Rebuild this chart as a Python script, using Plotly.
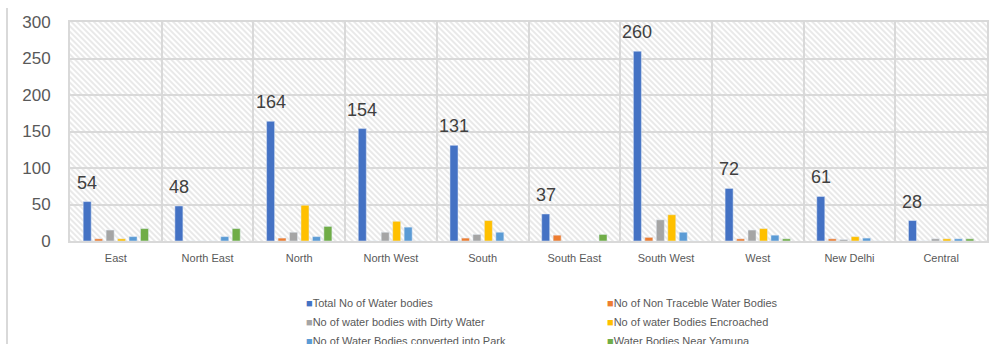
import base64
import plotly.graph_objects as go

categories = ["East", "North East", "North", "North West", "South", "South East",
              "South West", "West", "New Delhi", "Central"]

series_names = [
    "Total No of Water bodies",
    "No of Non Traceble Water Bodies",
    "No of water bodies with Dirty Water",
    "No of water Bodies Encroached",
    "No of Water Bodies converted into Park",
    "Water Bodies Near Yamuna",
]

total = [54, 48, 164, 154, 131, 37, 260, 72, 61, 28]
non_traceable = [3, 0, 4, 0, 4, 8, 5, 3, 3, 0]
dirty = [15, 0, 12, 12, 9, 0, 29, 15, 2, 3]
encroached = [3, 0, 49, 27, 28, 0, 36, 17, 6, 3]
park = [6, 6, 6, 19, 12, 0, 12, 8, 4, 3]
yamuna = [17, 17, 20, 0, 0, 9, 0, 3, 0, 3]

series_values = [total, non_traceable, dirty, encroached, park, yamuna]
colors = ["#4472C4", "#ED7D31", "#A5A5A5", "#FFC000", "#5B9BD5", "#70AD47"]
legend_ids = ["legend", "legend2", "legend", "legend2", "legend", "legend2"]

y_ticks = [0, 50, 100, 150, 200, 250, 300]

W, H = 1002, 344
ML, MR, MT, MB = 70, 15, 22, 103
PW, PH = W - ML - MR, H - MT - MB

fig = go.Figure()

for name, vals, col in zip(series_names, series_values, colors):
    fig.add_trace(go.Bar(x=categories, y=vals, name=name, marker_color=col,
                         showlegend=False, hoverinfo="x+y+name"))

# legend entries: coloured square glyph placed directly before the text
for name, col, lg in zip(series_names, colors, legend_ids):
    fig.add_trace(go.Scatter(x=[None], y=[None], mode="markers",
                             name=f'<span style="color:{col}">■</span>{name}',
                             marker=dict(symbol="square", size=1, color="rgba(0,0,0,0)"),
                             legend=lg, showlegend=True))

# data labels for total series, above the first bar of each group
bargap = 0.25
n = len(series_names)
offset = -(1 - bargap) / 2 + (1 - bargap) / n / 2
for i, v in enumerate(total):
    fig.add_annotation(x=i + offset, y=v, text=str(v), showarrow=False,
                       yanchor="bottom", yshift=7,
                       font=dict(size=18, color="#404040", family="Liberation Sans, Arial"))

# hatched plot background
svg = f'''<svg xmlns="http://www.w3.org/2000/svg" width="{PW}" height="{PH}">
<defs><pattern id="p" width="4" height="4" patternUnits="userSpaceOnUse" patternTransform="rotate(-45)">
<line x1="1" y1="0" x2="1" y2="4" stroke="#dadada" stroke-width="1.2"/></pattern></defs>
<rect width="{PW}" height="{PH}" fill="url(#p)"/></svg>'''
src = "data:image/svg+xml;base64," + base64.b64encode(svg.encode()).decode()
fig.add_layout_image(source=src, xref="paper", yref="paper", x=0, y=1,
                     sizex=1, sizey=1, xanchor="left", yanchor="top",
                     sizing="stretch", layer="below")

# outer chart border line on the left
fig.add_shape(type="line", xref="paper", yref="paper",
              x0=(7 - ML) / PW, x1=(7 - ML) / PW,
              y0=(MB - H) / PH, y1=(H - MB - 8) / PH,
              line=dict(color="#D9D9D9", width=2))

legend_font = dict(size=11, color="#595959", family="Liberation Sans, DejaVu Sans")
fig.update_layout(
    width=W, height=H,
    margin=dict(l=ML, r=MR, t=MT, b=MB, autoexpand=False),
    paper_bgcolor="white", plot_bgcolor="rgba(0,0,0,0)",
    barmode="group", bargap=bargap, bargroupgap=0.3,
    font=dict(family="Liberation Sans, Arial", color="#595959"),
    legend=dict(xref="container", yref="container", x=266 / W, y=1 - 288 / H,
                xanchor="left", yanchor="top", orientation="v",
                font=legend_font, bgcolor="rgba(0,0,0,0)"),
    legend2=dict(xref="container", yref="container", x=567 / W, y=1 - 288 / H,
                 xanchor="left", yanchor="top", orientation="v",
                 font=legend_font, bgcolor="rgba(0,0,0,0)"),
    xaxis=dict(type="category", tickson="boundaries", showgrid=True,
               gridcolor="#D9D9D9", gridwidth=2, showline=True, linecolor="#D9D9D9",
               linewidth=2, mirror=True, ticks="", ticklabelstandoff=6,
               tickfont=dict(size=11, color="#595959"), fixedrange=True),
    yaxis=dict(range=[0, 300], tickvals=y_ticks, showgrid=True, gridcolor="#D9D9D9",
               gridwidth=2, showline=True, linecolor="#D9D9D9", linewidth=2,
               mirror=True, zeroline=False, ticks="", ticklabelstandoff=14,
               tickfont=dict(size=17, color="#595959"), fixedrange=True),
)

fig.write_html("out.html")
